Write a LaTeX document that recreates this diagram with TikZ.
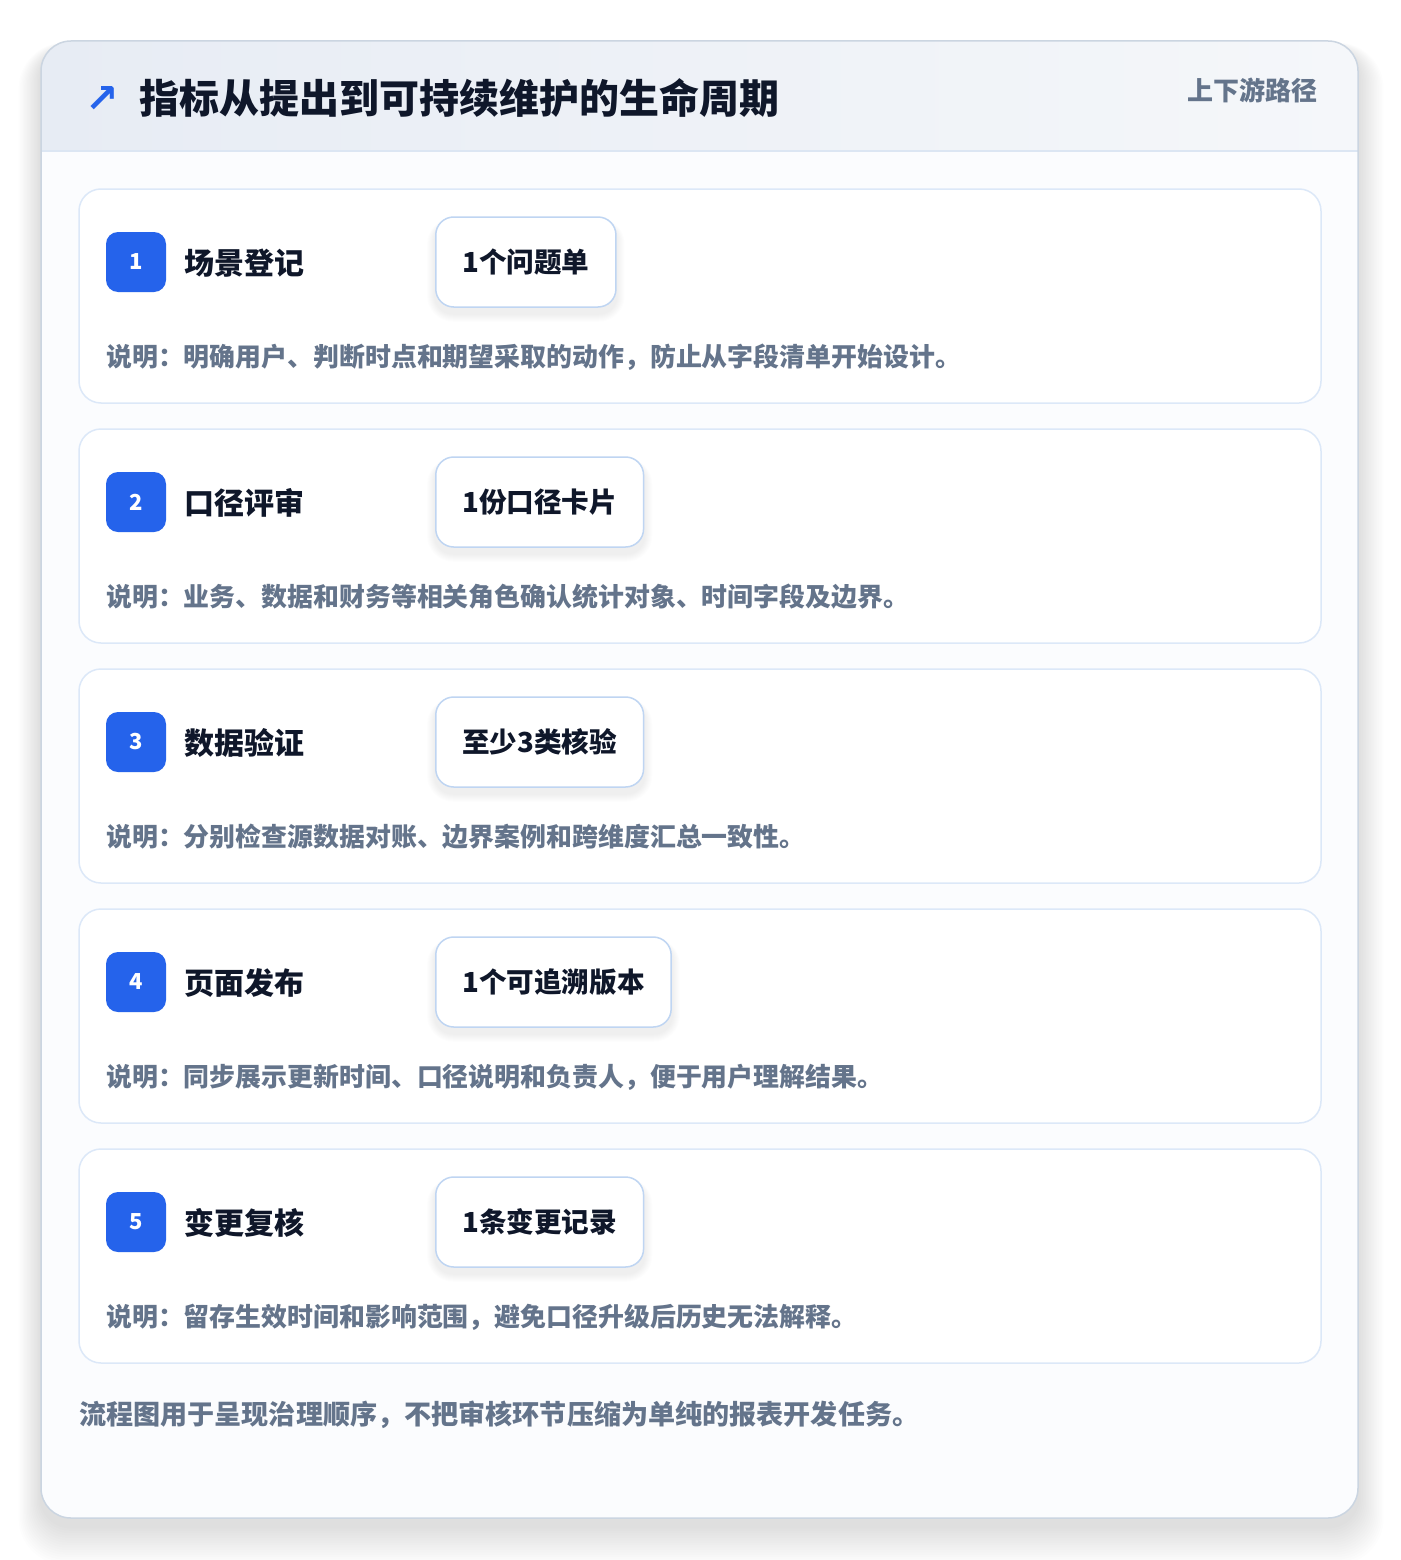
\documentclass[tikz,border=0pt]{standalone}
\usepackage{fontspec}
\setmainfont{Noto Sans CJK SC}
\newfontfamily\symfont{DejaVu Sans}
\usetikzlibrary{positioning}
\definecolor{cardline}{HTML}{CBD5E1}
\definecolor{hdrA}{HTML}{E7ECF4}
\definecolor{hdrB}{HTML}{F5F7FA}
\definecolor{hdrline}{HTML}{DCE6F3}
\definecolor{bodyfill}{HTML}{FBFCFE}
\definecolor{stepline}{HTML}{DCE8F8}
\definecolor{pillline}{HTML}{BFD5F2}
\definecolor{accent}{HTML}{2563EB}
\definecolor{ink}{HTML}{0F172A}
\definecolor{muted}{HTML}{64748B}
\tikzset{
  stepcard/.style={draw=stepline, line width=1.5pt, fill=white, rounded corners=22pt,
    minimum width=1242pt, minimum height=214pt, inner sep=0pt},
  badgebox/.style={fill=accent, rounded corners=12pt, minimum width=60pt, minimum height=60pt,
    inner sep=0pt, text=white, font=\fontsize{22}{24}\selectfont\bfseries},
  steptitle/.style={anchor=west, inner sep=0pt, text=ink, font=\fontsize{30}{34}\selectfont\bfseries},
  pillbox/.style={draw=pillline, line width=1.5pt, fill=white, rounded corners=18pt,
    minimum height=90pt, inner xsep=26.5pt, anchor=west, text=ink, font=\fontsize{27.6}{30}\selectfont\bfseries},
  pillghost/.style={pillbox, draw=none, fill=none, text opacity=0},
  desctext/.style={anchor=west, inner sep=0pt, text=muted, font=\fontsize{25.9}{28}\selectfont\bfseries},
}
\begin{document}
\begin{tikzpicture}[x=1pt,y=-1pt]
\useasboundingbox (0,0) rectangle (1400,1560);
\fill[white] (0,0) rectangle (1400,1560);
% soft shadow of outer card
\foreach \i in {1,...,16}{
  \fill[black, opacity=0.006, rounded corners=30pt+\i pt]
    (41-1.4*\i, 41-0.4*\i+8) rectangle (1358+1.6*\i, 1518+2.4*\i+8);
}
% outer card
\path[fill=bodyfill, rounded corners=30pt] (41,41) rectangle (1358,1518);
\begin{scope}
  \clip[rounded corners=30pt] (41,41) rectangle (1358,1518);
  \shade[left color=hdrA, right color=hdrB] (41,41) rectangle (1358,151);
  \draw[hdrline, line width=1.5pt] (41,151) -- (1358,151);
\end{scope}
\draw[cardline, line width=1.5pt, rounded corners=30pt] (41,41) rectangle (1358,1518);
% header
\node[text=accent, inner sep=0pt, font=\symfont\bfseries\fontsize{40}{42}\selectfont] (icon) at (102,100) {↗};
\node[anchor=west, inner sep=0pt, text=ink, font=\fontsize{40}{44}\selectfont\bfseries] (title) at (139,98) {指标从提出到可持续维护的生命周期};
\node[anchor=east, inner sep=0pt, text=muted, font=\fontsize{26}{30}\selectfont\bfseries] (tag) at (1318,90) {上下游路径};
% steps
\foreach \i/\t/\p/\d in {
  1/场景登记/1个问题单/说明：明确用户、判断时点和期望采取的动作，防止从字段清单开始设计。,
  2/口径评审/1份口径卡片/说明：业务、数据和财务等相关角色确认统计对象、时间字段及边界。,
  3/数据验证/至少3类核验/说明：分别检查源数据对账、边界案例和跨维度汇总一致性。,
  4/页面发布/1个可追溯版本/说明：同步展示更新时间、口径说明和负责人，便于用户理解结果。,
  5/变更复核/1条变更记录/说明：留存生效时间和影响范围，避免口径升级后历史无法解释。}{
  \pgfmathsetmacro{\yo}{189+240*(\i-1)}
  \node[stepcard] (card\i) at (700,\yo+107) {};
  \node[badgebox] (badge\i) at (136,\yo+73) {\i};
  \node[steptitle] (stitle\i) at (184,\yo+74) {\t};
  \node[pillghost] (ghost\i) at (435,\yo+73) {\p};
  \foreach \k in {1,...,8}{
    \fill[black, opacity=0.007, rounded corners=18pt+\k pt]
      ([xshift=-\k pt, yshift=-\k pt-6pt]ghost\i.south west) rectangle ([xshift=\k pt, yshift=0.5*\k pt-6pt]ghost\i.north east);
  }
  \node[pillbox] (pill\i) at (435,\yo+73) {\p};
  \node[desctext] (desc\i) at (106,\yo+168) {\d};
}
% footer
\node[anchor=west, inner sep=0pt, text=muted, font=\fontsize{27.1}{30}\selectfont\bfseries] (foot) at (79,1415) {流程图用于呈现治理顺序，不把审核环节压缩为单纯的报表开发任务。};
\end{tikzpicture}
\end{document}
